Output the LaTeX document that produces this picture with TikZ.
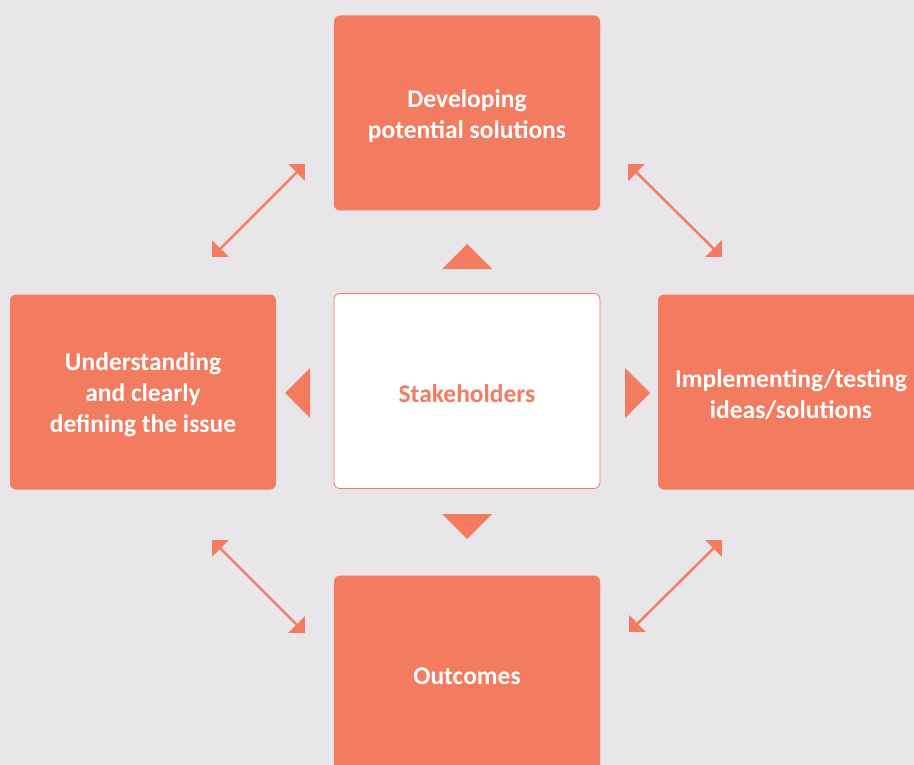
\documentclass[tikz,border=0pt]{standalone}
\usepackage{fontspec}
\setmainfont{Carlito}
\usetikzlibrary{arrows.meta}
\definecolor{coral}{HTML}{F27B60}
\definecolor{paper}{HTML}{E8E6E9}
\begin{document}
\begin{tikzpicture}[x=1pt,y=-1pt,
  stage/.style={fill=coral, rounded corners=6pt, minimum width=266pt, minimum height=195pt,
    inner sep=0pt},
  caption/.style={align=center, text=white, inner sep=0pt, yshift=-3pt,
    font=\fontsize{25.5}{31}\selectfont\bfseries},
  hub/.style={stage, fill=white, draw=coral, line width=0.8pt},
  pointer/.style={fill=coral},
  link/.style={draw=coral, line width=2.4pt, {Triangle[length=12pt,width=23pt]}-{Triangle[length=12pt,width=23pt]}}]
  % canvas
  \fill[paper] (0,0) rectangle (914,765);
  \useasboundingbox (0,0) rectangle (914,765);

  % stages around the stakeholders
  \node[stage, label={[caption]center:Developing\\potential solutions}] (develop) at (467,113) {};
  \node[stage, label={[caption]center:Understanding\\and clearly\\defining the issue}] (understand) at (143,392) {};
  \node[stage, label={[caption]center:Implementing/testing\\ideas/solutions}] (implement) at (791,392) {};
  \node[stage, label={[caption]center:Outcomes}] (outcomes) at (467,673) {};
  \node[hub, label={[caption, text=coral]center:Stakeholders}] (stake) at (467,391) {};

  % pointers from the hub towards each stage
  \fill[pointer] (442,269) -- (467,244) -- (492,269) -- cycle;
  \fill[pointer] (442,514) -- (467,539) -- (492,514) -- cycle;
  \fill[pointer] (310,368) -- (285,393) -- (310,418) -- cycle;
  \fill[pointer] (625,368) -- (650,393) -- (625,418) -- cycle;

  % two-way links between neighbouring stages
  \coordinate (tlA) at (212,257); \coordinate (tlB) at (305,164);
  \coordinate (trA) at (628,164); \coordinate (trB) at (722,257);
  \coordinate (blA) at (212,540); \coordinate (blB) at (305,633);
  \coordinate (brA) at (629,632); \coordinate (brB) at (722,540);
  \draw[link] (tlA) -- (tlB);
  \draw[link] (trA) -- (trB);
  \draw[link] (blA) -- (blB);
  \draw[link] (brA) -- (brB);
\end{tikzpicture}
\end{document}
